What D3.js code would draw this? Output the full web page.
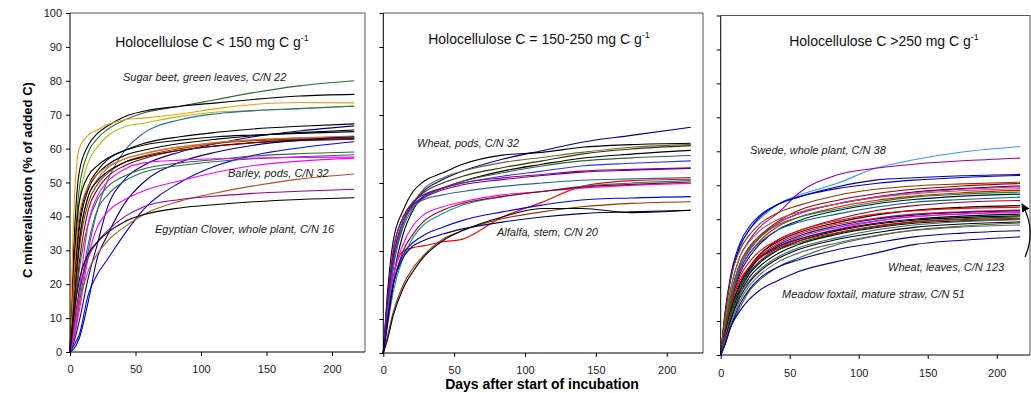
<!doctype html>
<html>
<head>
<meta charset="utf-8">
<title>C mineralisation of plant residues</title>
<script src="https://d3js.org/d3.v7.min.js"></script>
<style>
  body { margin: 0; background: #fff; }
  svg { font-family: "Liberation Sans", Arial, sans-serif; }
  .tick text { font-size: 11px; fill: #222; }
  .note { font-size: 11px; font-style: italic; fill: #222; }
  .title { font-size: 14px; fill: #111; }
</style>
</head>
<body>
<svg id="chart" width="1031" height="393"></svg>
<script>
// sampling days (same for all curves)
var days = [0, 3, 7, 14, 21, 28, 42, 56, 84, 112, 140, 175, 217];

// panel 1 : holocellulose C < 150
var p1Values = [
  [0, 26, 48, 59, 63, 65.5, 68.5, 70.5, 72.5, 74.5, 76.5, 78.5, 80],
  [0, 32, 53, 61, 64.5, 66.5, 69.5, 71, 72.5, 73.5, 74.5, 75.5, 76],
  [0, 42, 60, 64, 65.5, 67, 68.5, 69, 70.2, 71.8, 73, 73.6, 73.5],
  [0, 22, 44, 56, 60.5, 63.5, 66.5, 67.5, 69.5, 70.8, 71.2, 71.8, 72.6],
  [0, 4, 14, 30, 42, 50, 59.5, 64.5, 68.5, 70.3, 71.2, 71.8, 72.5],
  [0, 20, 38, 49, 53.5, 56.5, 59.5, 61.5, 63.5, 64.8, 65.8, 66.6, 67.3],
  [0, 3, 9, 22, 32, 42, 51, 55, 59, 61.5, 63.5, 65.2, 66.7],
  [0, 18, 36, 48, 52.5, 55, 58, 59.5, 61.5, 62.8, 63.8, 64.7, 65.5],
  [0, 25, 44, 52, 55, 57, 59.5, 61, 62.5, 63.5, 64, 64.5, 65],
  [0, 16, 33, 46, 51, 54, 57, 58.5, 60.5, 61.8, 62.6, 63.2, 63.7],
  [0, 22, 40, 49, 52.5, 54.5, 57, 58.5, 60.5, 61.8, 62.6, 63.1, 63.5],
  [0, 12, 30, 44, 49.5, 52.5, 56, 57.8, 60, 61.5, 62.3, 62.8, 63.2],
  [0, 14, 32, 46, 50.5, 53, 56, 57.5, 59.5, 60.8, 61.8, 62.5, 63],
  [0, 10, 26, 42, 48, 51.5, 55, 57, 59.5, 60.8, 61.7, 62.3, 62.8],
  [0, 1, 4, 15, 28, 34, 44, 50, 56, 59, 61, 62.5, 63.5],
  [0, 2, 5, 17, 23, 27, 35, 42, 50, 55, 58, 60.2, 62],
  [0, 10, 24, 38, 45, 48.5, 52, 54, 55.8, 56.8, 57.8, 58.5, 59],
  [0, 6, 16, 32, 42, 46, 50.5, 53, 55, 56.2, 57, 57.6, 58.2],
  [0, 6, 18, 38, 46, 50, 54, 55.8, 56.6, 57, 57.2, 57.4, 57.5],
  [0, 4, 12, 28, 37, 41, 45, 47.5, 50.5, 53, 55, 56.3, 57.2],
  [0, 6, 14, 24, 29, 32.5, 37, 40.5, 44.5, 47, 49, 51, 52.5],
  [0, 8, 18, 28, 32.5, 35.5, 40, 42.8, 45, 46, 46.8, 47.4, 48],
  [0, 11, 21, 29, 32.5, 35, 38.5, 40.5, 42.5, 43.5, 44.3, 45, 45.5]
];
var p1Colors = ["#2e6b2e", "#000000", "#ff9900", "#99cc00", "#336699", "#000000", "#000099", "#000000",
  "#000000", "#808080", "#ff6600", "#993300", "#000000", "#800000", "#000080", "#0000ff",
  "#336633", "#336666", "#ff00ff", "#ff00ff", "#b3541e", "#990099", "#000000"];

// panel 2 : holocellulose C = 150-250
var p2Values = [
  [0, 12, 26, 38, 44, 47.5, 51, 53.5, 57, 59.5, 62, 64, 66.4],
  [0, 18, 33, 42, 47.5, 50.3, 53, 55.5, 58.2, 59, 60.5, 61.3, 61.7],
  [0, 14, 28, 38, 44, 48, 51.5, 53.5, 56, 57.5, 59, 60.5, 61.3],
  [0, 14, 30, 40, 44, 47, 50, 52, 54.5, 56.5, 58.5, 60, 61],
  [0, 10, 22, 35, 42, 46, 48.5, 50.5, 53.5, 55.5, 57.3, 58.5, 59.6],
  [0, 11, 25, 37, 42.5, 45.5, 48.5, 50.5, 53, 55, 56.5, 57.4, 58.1],
  [0, 12, 26, 38, 43.5, 46, 48.5, 50, 52, 53.5, 55, 55.8, 56.5],
  [0, 16, 30, 40, 44.5, 46.5, 48.5, 50, 51.5, 52.5, 53.5, 54, 54.5],
  [0, 15, 28, 39, 43.5, 45.5, 48, 49.5, 51, 52.2, 53.2, 53.8, 54.3],
  [0, 12, 25, 38, 43, 45, 46.5, 47.5, 49, 50, 50.8, 51.2, 51.6],
  [0, 10, 22, 30, 31, 31.5, 32.7, 33.5, 40, 44.3, 49, 50.7, 51.1],
  [0, 8, 18, 28, 34, 37.5, 41, 43.5, 46, 47.5, 49, 50, 50.7],
  [0, 10, 22, 32, 37.5, 40.5, 43, 44.5, 46.5, 47.5, 48.5, 49.3, 49.9],
  [0, 9, 20, 30, 35, 38.5, 42, 44, 46, 47.5, 48.8, 49.6, 50.3],
  [0, 9, 20, 29, 32.5, 34.5, 37, 39, 41.5, 43.5, 45, 45.6, 46],
  [0, 5, 12, 20, 25, 28.5, 33.5, 36, 39.5, 41.5, 43, 44, 44.5],
  [0, 10, 20, 28, 31.5, 33, 35, 36.5, 38.5, 40, 41, 41.5, 42],
  [0, 4, 11, 19, 24, 28, 33, 36, 40, 42.5, 42.5, 41.3, 42]
];
var p2Colors = ["#000099", "#000000", "#666633", "#333300", "#000000", "#336633", "#3333ff", "#990066",
  "#660099", "#336699", "#ff0000", "#009999", "#ff00ff", "#990000", "#0000ff", "#993300",
  "#000066", "#000000"];

// panel 3 : holocellulose C > 250
var p3Values = [
  [0, 12, 22, 32, 37, 40, 44.5, 47, 50.5, 55, 57.5, 59.8, 61.4],
  [0, 9, 19, 29, 34, 37.5, 42, 47.5, 53, 55, 56.2, 57.2, 58],
  [0, 11, 22, 32, 37, 40.5, 44.5, 46.5, 49.5, 51.5, 52.2, 52.8, 53.2],
  [0, 12, 23, 33, 38, 41, 44.5, 46.5, 49, 50.5, 51.5, 52.3, 52.9],
  [0, 11, 22, 31, 35.5, 38.5, 42, 44, 47, 48.8, 49.8, 50.4, 50.9],
  [0, 8, 17, 27, 32, 35, 39.5, 42.5, 45.5, 47.5, 48.8, 49.8, 50.5],
  [0, 7, 16, 26, 31, 34.5, 39, 41.5, 44.5, 46.5, 48, 49, 49.8],
  [0, 7, 16, 26, 31, 34.5, 39, 41.5, 44.5, 46.5, 47.8, 48.8, 49.5],
  [0, 9, 19, 29, 33.5, 36.5, 40, 42, 44.5, 46.3, 47.5, 48.4, 49],
  [0, 7, 15, 25, 30, 33.5, 38, 40.5, 43.5, 45.5, 46.8, 47.8, 48.5],
  [0, 8, 17, 27, 31.5, 34.5, 38.5, 40.5, 43, 45, 46.5, 47.4, 48],
  [0, 6, 14, 24, 29, 32.5, 37, 39.5, 42.5, 44.5, 45.8, 46.8, 47.4],
  [0, 7, 15, 25, 30, 33, 37, 39, 41.5, 43.5, 45, 45.8, 46.5],
  [0, 5, 12, 21, 26, 29.5, 34, 36.5, 40, 42.5, 44, 45, 45.5],
  [0, 5, 12, 21, 26, 29.5, 33.5, 36, 39, 41.2, 42.6, 43.5, 44],
  [0, 6, 14, 23, 27.5, 30.5, 34, 36.5, 39.5, 41.5, 42.5, 43.2, 43.5],
  [0, 6, 13, 21, 26, 29, 33, 35.5, 38.5, 40.3, 41.5, 42.2, 42.7],
  [0, 5, 12, 20, 25, 28.5, 32.5, 35, 38, 40, 41.2, 42, 42.5],
  [0, 6, 13, 21, 25.5, 28.5, 32, 34.5, 37.5, 39.5, 40.8, 41.6, 42.2],
  [0, 5, 11, 19, 24, 27.5, 31.5, 34, 37, 39.3, 40.7, 41.5, 42],
  [0, 6, 13, 21, 25.5, 28.5, 32, 34, 36.8, 38.8, 40, 40.9, 41.5],
  [0, 5, 11, 19, 24, 27, 31, 33.5, 36.5, 38.5, 39.7, 40.5, 41],
  [0, 5, 12, 20, 24.5, 27.5, 31, 33, 35.8, 37.8, 39.2, 40.1, 40.7],
  [0, 7, 14, 22, 26, 28.5, 31.5, 33.5, 36, 38, 39.2, 39.9, 40.3],
  [0, 4, 10, 18, 23, 26, 30, 32.5, 35.5, 37.5, 38.8, 39.5, 40],
  [0, 5, 11, 18, 22, 25, 29, 31.5, 34.5, 36.8, 38.3, 39.3, 39.9],
  [0, 4, 10, 17, 21.5, 24.5, 28.5, 31, 34, 36, 37.6, 38.6, 39.2],
  [0, 3, 8, 14, 19, 22, 26, 28.5, 32.5, 35, 36.8, 38, 38.9],
  [0, 4, 9, 16, 20.5, 23.5, 27.5, 30, 33, 35.2, 36.7, 37.7, 38.3],
  [0, 3, 8, 15, 19.5, 22.5, 26, 28, 31, 33, 34.8, 35.9, 36.6],
  [0, 3, 8, 13, 16.5, 19, 22, 24.5, 27.5, 30, 32.5, 33.8, 34.8]
];
var p3Colors = ["#3399ff", "#990099", "#000099", "#0000cc", "#993300", "#990000", "#000000", "#ff00ff",
  "#996633", "#ff0000", "#009900", "#000080", "#006666", "#990033", "#000000", "#ff0000",
  "#ff0000", "#000099", "#993399", "#ff00ff", "#000000", "#000000", "#006600", "#cc0000",
  "#000000", "#336666", "#000000", "#336633", "#666666", "#000099", "#000099"];

var xTicks = [0, 50, 100, 150, 200];
var yTicks = [0, 10, 20, 30, 40, 50, 60, 70, 80, 90, 100];

var titles = ["Holocellulose C < 150 mg C g", "Holocellulose C = 150-250 mg C g", "Holocellulose C >250 mg C g"];
var notes1 = ["Sugar beet, green leaves, C/N 22", "Barley, pods, C/N 32", "Egyptian Clover, whole plant, C/N 16"];
var notes2 = ["Wheat, pods, C/N 32", "Alfalfa, stem, C/N 20"];
var notes3 = ["Swede, whole plant, C/N 38", "Wheat, leaves, C/N 123", "Meadow foxtail, mature straw, C/N 51"];

var svg = d3.select("#chart");

var panels = [
  {values: p1Values, colors: p1Colors, x0: 70, x200: 332, right: 365, top: 13, bottom: 352,
   title: titles[0], titleX: 212, titleY: 47, labels: true, tickY: 373,
   notes: notes1, notePos: [[123, 81], [228, 177], [155, 233]]},
  {values: p2Values, colors: p2Colors, x0: 383.3, x200: 666.7, right: 703, top: 13, bottom: 353,
   title: titles[1], titleX: 539, titleY: 44, labels: false, tickY: 374,
   notes: notes2, notePos: [[417, 147], [497, 236]]},
  {values: p3Values, colors: p3Colors, x0: 720.7, x200: 996.7, right: 1030, top: 15.5, bottom: 355,
   title: titles[2], titleX: 884, titleY: 46, labels: false, tickY: 377,
   notes: notes3, notePos: [[750, 154], [888, 271], [782, 298]]}
];

panels.forEach(function(p) {
  var x = d3.scaleLinear().domain([0, 200]).range([p.x0, p.x200]);
  var y = d3.scaleLinear().domain([0, 100]).range([p.bottom, p.top]);
  var g = svg.append("g");

  // frame
  g.append("path")
    .attr("d", `M${p.x0},${p.top}H${p.right}V${p.bottom}`)
    .attr("fill", "none").attr("stroke", "#555").attr("stroke-width", 1);

  var line = d3.line()
    .x(function(d, i) { return x(days[i]); })
    .y(function(d) { return y(d); })
    .curve(d3.curveMonotoneX);

  g.selectAll(".curve")
    .data(p.values)
    .enter().append("path")
    .attr("class", "curve")
    .attr("d", line)
    .attr("fill", "none")
    .attr("stroke", function(d, i) { return p.colors[i]; })
    .attr("stroke-width", 1.1);

  var xa = g.append("g")
    .attr("transform", `translate(0,${p.bottom})`)
    .call(d3.axisBottom(x).tickValues(xTicks).tickSize(4).tickSizeOuter(0).tickPadding(6));
  xa.select(".domain").remove();
  xa.selectAll(".tick text").attr("y", p.tickY - p.bottom).attr("dy", 0);

  var ya = g.append("g")
    .attr("transform", `translate(${p.x0},0)`)
    .call(d3.axisLeft(y).tickValues(yTicks).tickSize(4).tickSizeOuter(0).tickPadding(4));
  ya.select(".domain").remove();
  if (!p.labels) ya.selectAll(".tick text").remove();

  g.append("path")
    .attr("d", `M${p.x0},${p.top}V${p.bottom}H${p.right}`)
    .attr("fill", "none").attr("stroke", "#000").attr("stroke-width", 1);

  var t = g.append("text").attr("class", "title")
    .attr("x", p.titleX).attr("y", p.titleY).attr("text-anchor", "middle")
    .text(p.title);
  t.append("tspan").attr("dy", -6).style("font-size", "9px").text("-1");

  g.selectAll(".note")
    .data(p.notes)
    .enter().append("text")
    .attr("class", "note")
    .attr("x", function(d, i) { return p.notePos[i][0]; })
    .attr("y", function(d, i) { return p.notePos[i][1]; })
    .text(function(d) { return d; });
});

// axis titles
svg.append("text")
  .attr("transform", "translate(32,180) rotate(-90)")
  .attr("text-anchor", "middle")
  .style("font-size", "13px").style("font-weight", "bold")
  .text("C mineralisation (% of added C)");

svg.append("text")
  .attr("x", 542).attr("y", 389)
  .attr("text-anchor", "middle")
  .style("font-size", "14px").style("font-weight", "bold")
  .text("Days after start of incubation");

// arrow towards the wheat leaves curve
svg.append("defs").append("marker")
  .attr("id", "head").attr("viewBox", "0 0 10 10")
  .attr("refX", 9).attr("refY", 5)
  .attr("markerWidth", 7).attr("markerHeight", 7)
  .attr("orient", "auto")
  .append("path").attr("d", "M0,0L10,5L0,10z").attr("fill", "#000");

svg.append("path")
  .attr("d", "M1025,257Q1036.7,230 1022,204")
  .attr("fill", "none").attr("stroke", "#000").attr("stroke-width", 1.2)
  .attr("marker-end", "url(#head)");
</script>
</body>
</html>
